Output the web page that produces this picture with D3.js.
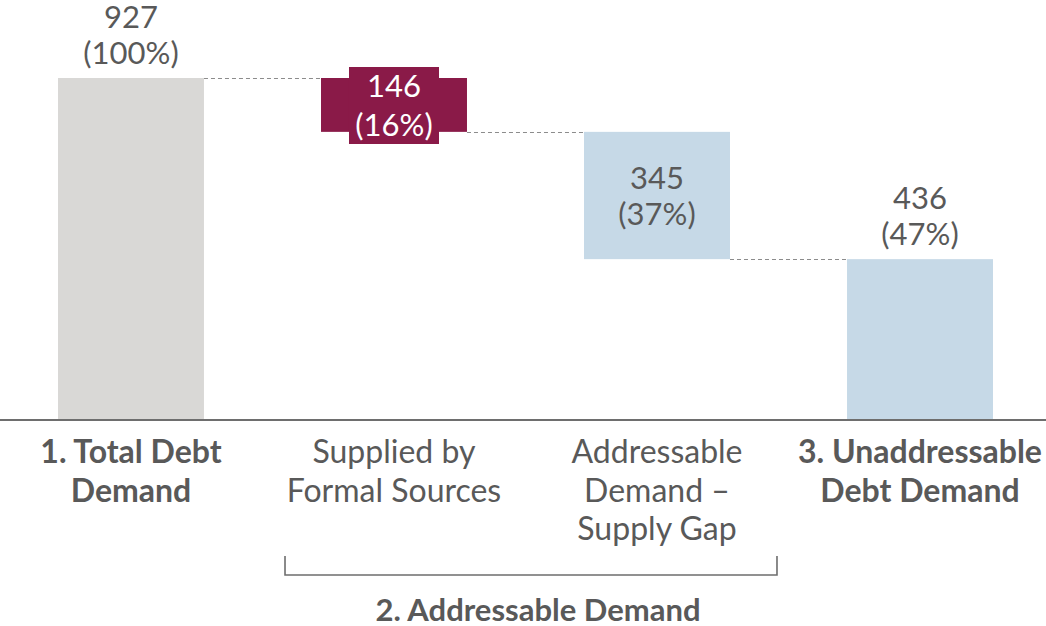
<!DOCTYPE html>
<html>
<head>
<meta charset="utf-8">
<script src="https://cdn.jsdelivr.net/npm/d3@7"></script>
<style>
  html, body { margin: 0; padding: 0; background: #fff; }
  svg { display: block; font-family: Lato, 'Open Sans', sans-serif; }
</style>
</head>
<body>
<svg id="chart" width="1046" height="626"></svg>
<script>
// waterfall data
const categories = ['total', 'supplied', 'gap', 'unaddressable']
const labelLines = [
  ['1. Total Debt', 'Demand'],
  ['Supplied by', 'Formal Sources'],
  ['Addressable', 'Demand –', 'Supply Gap'],
  ['3. Unaddressable', 'Debt Demand']
]
const labelBold = [true, false, false, true]
const values = [927, 146, 345, 436]
const percents = ['100%', '16%', '37%', '47%']
const kinds = ['total', 'step', 'step', 'total']
const groupLabel = '2. Addressable Demand'

const colors = {
  total: '#d9d8d6',
  supplied: '#8a1a48',
  gap: '#c6d9e7',
  unaddressable: '#c6d9e7'
}
const textColor = '#595959'

const svg = d3.select('#chart')
const width = 1046
const baseY = 420

// running level: totals sit on the axis, steps hang from the previous level
let level = 0
const bars = categories.map((c, i) => {
  let y0, y1
  if (i === 0) { y0 = 0; y1 = values[i]; level = values[i] }
  else if (kinds[i] === 'step') { y1 = level; y0 = level - values[i]; level = y0 }
  else { y0 = 0; y1 = values[i] }
  return { key: c, i, y0, y1, value: values[i], pct: percents[i] }
})

const x = d3.scaleBand().domain(categories).range([58, 993]).paddingInner(0.445).paddingOuter(0)
const y = d3.scaleLinear().domain([0, 927]).range([baseY, 78])

// dashed connectors
const conn = svg.append('g')
for (let i = 0; i < bars.length - 1; i++) {
  const a = bars[i], b = bars[i + 1]
  const yy = i === 0 ? a.y1 : a.y0
  conn.append('line')
    .attr('x1', x(a.key) + x.bandwidth()).attr('x2', x(b.key))
    .attr('y1', Math.round(y(yy)) + 0.5).attr('y2', Math.round(y(yy)) + 0.5)
    .attr('stroke', '#8c8c8c').attr('stroke-width', 1)
    .attr('stroke-dasharray', '4,3')
}

// bars
svg.append('g').selectAll('rect').data(bars).join('rect')
  .attr('x', d => x(d.key))
  .attr('width', x.bandwidth())
  .attr('y', d => y(d.y1))
  .attr('height', d => y(d.y0) - y(d.y1))
  .attr('fill', d => colors[d.key])

// value labels
const lab = svg.append('g')
bars.forEach(d => {
  const cx = x(d.key) + x.bandwidth() / 2
  let b1, b2
  let fill = textColor
  if (d.i === 0 || d.i === 3) { b1 = y(d.y1) - 50; b2 = b1 + 36 }
  else if (d.i === 1) {
    // label box sticking out of the thin bar
    lab.append('rect')
      .attr('x', cx - 45).attr('width', 90)
      .attr('y', y(d.y1) - 11).attr('height', 77)
      .attr('fill', colors[d.key])
    b1 = y(d.y1) + 19; b2 = b1 + 39
    fill = '#ffffff'
  } else {
    const mid = (y(d.y1) + y(d.y0)) / 2
    b1 = mid - 7; b2 = b1 + 36
  }
  const t = lab.append('text')
    .attr('text-anchor', 'middle')
    .attr('fill', fill)
    .style('font-size', '31px')
  t.append('tspan').attr('x', cx).attr('y', b1).text(d.value)
  t.append('tspan').attr('x', cx).attr('y', b2).text('(' + d.pct + ')')
})

// axis line
svg.append('line')
  .attr('x1', 0).attr('x2', width)
  .attr('y1', baseY).attr('y2', baseY)
  .attr('stroke', '#6e6e6e').attr('stroke-width', 2)

// category labels
const cat = svg.append('g')
categories.forEach((c, i) => {
  const cx = x(c) + x.bandwidth() / 2
  const t = cat.append('text')
    .attr('text-anchor', 'middle')
    .attr('fill', textColor)
    .style('font-size', '32px')
    .style('font-weight', labelBold[i] ? 700 : 400)
  labelLines[i].forEach((ln, k) => {
    t.append('tspan').attr('x', cx).attr('y', 463 + k * 38.5).text(ln)
  })
})

// bracket under the two step categories
const bx0 = x('supplied') - 36, bx1 = x('gap') + x.bandwidth() + 47
svg.append('path')
  .attr('d', `M${bx0},556V575H${bx1}V556`)
  .attr('fill', 'none')
  .attr('stroke', '#6e6e6e')
  .attr('stroke-width', 1.6)

svg.append('text')
  .attr('x', 538)
  .attr('y', 621)
  .attr('text-anchor', 'middle')
  .attr('fill', textColor)
  .style('font-size', '31px')
  .style('font-weight', 700)
  .text(groupLabel)
</script>
</body>
</html>
